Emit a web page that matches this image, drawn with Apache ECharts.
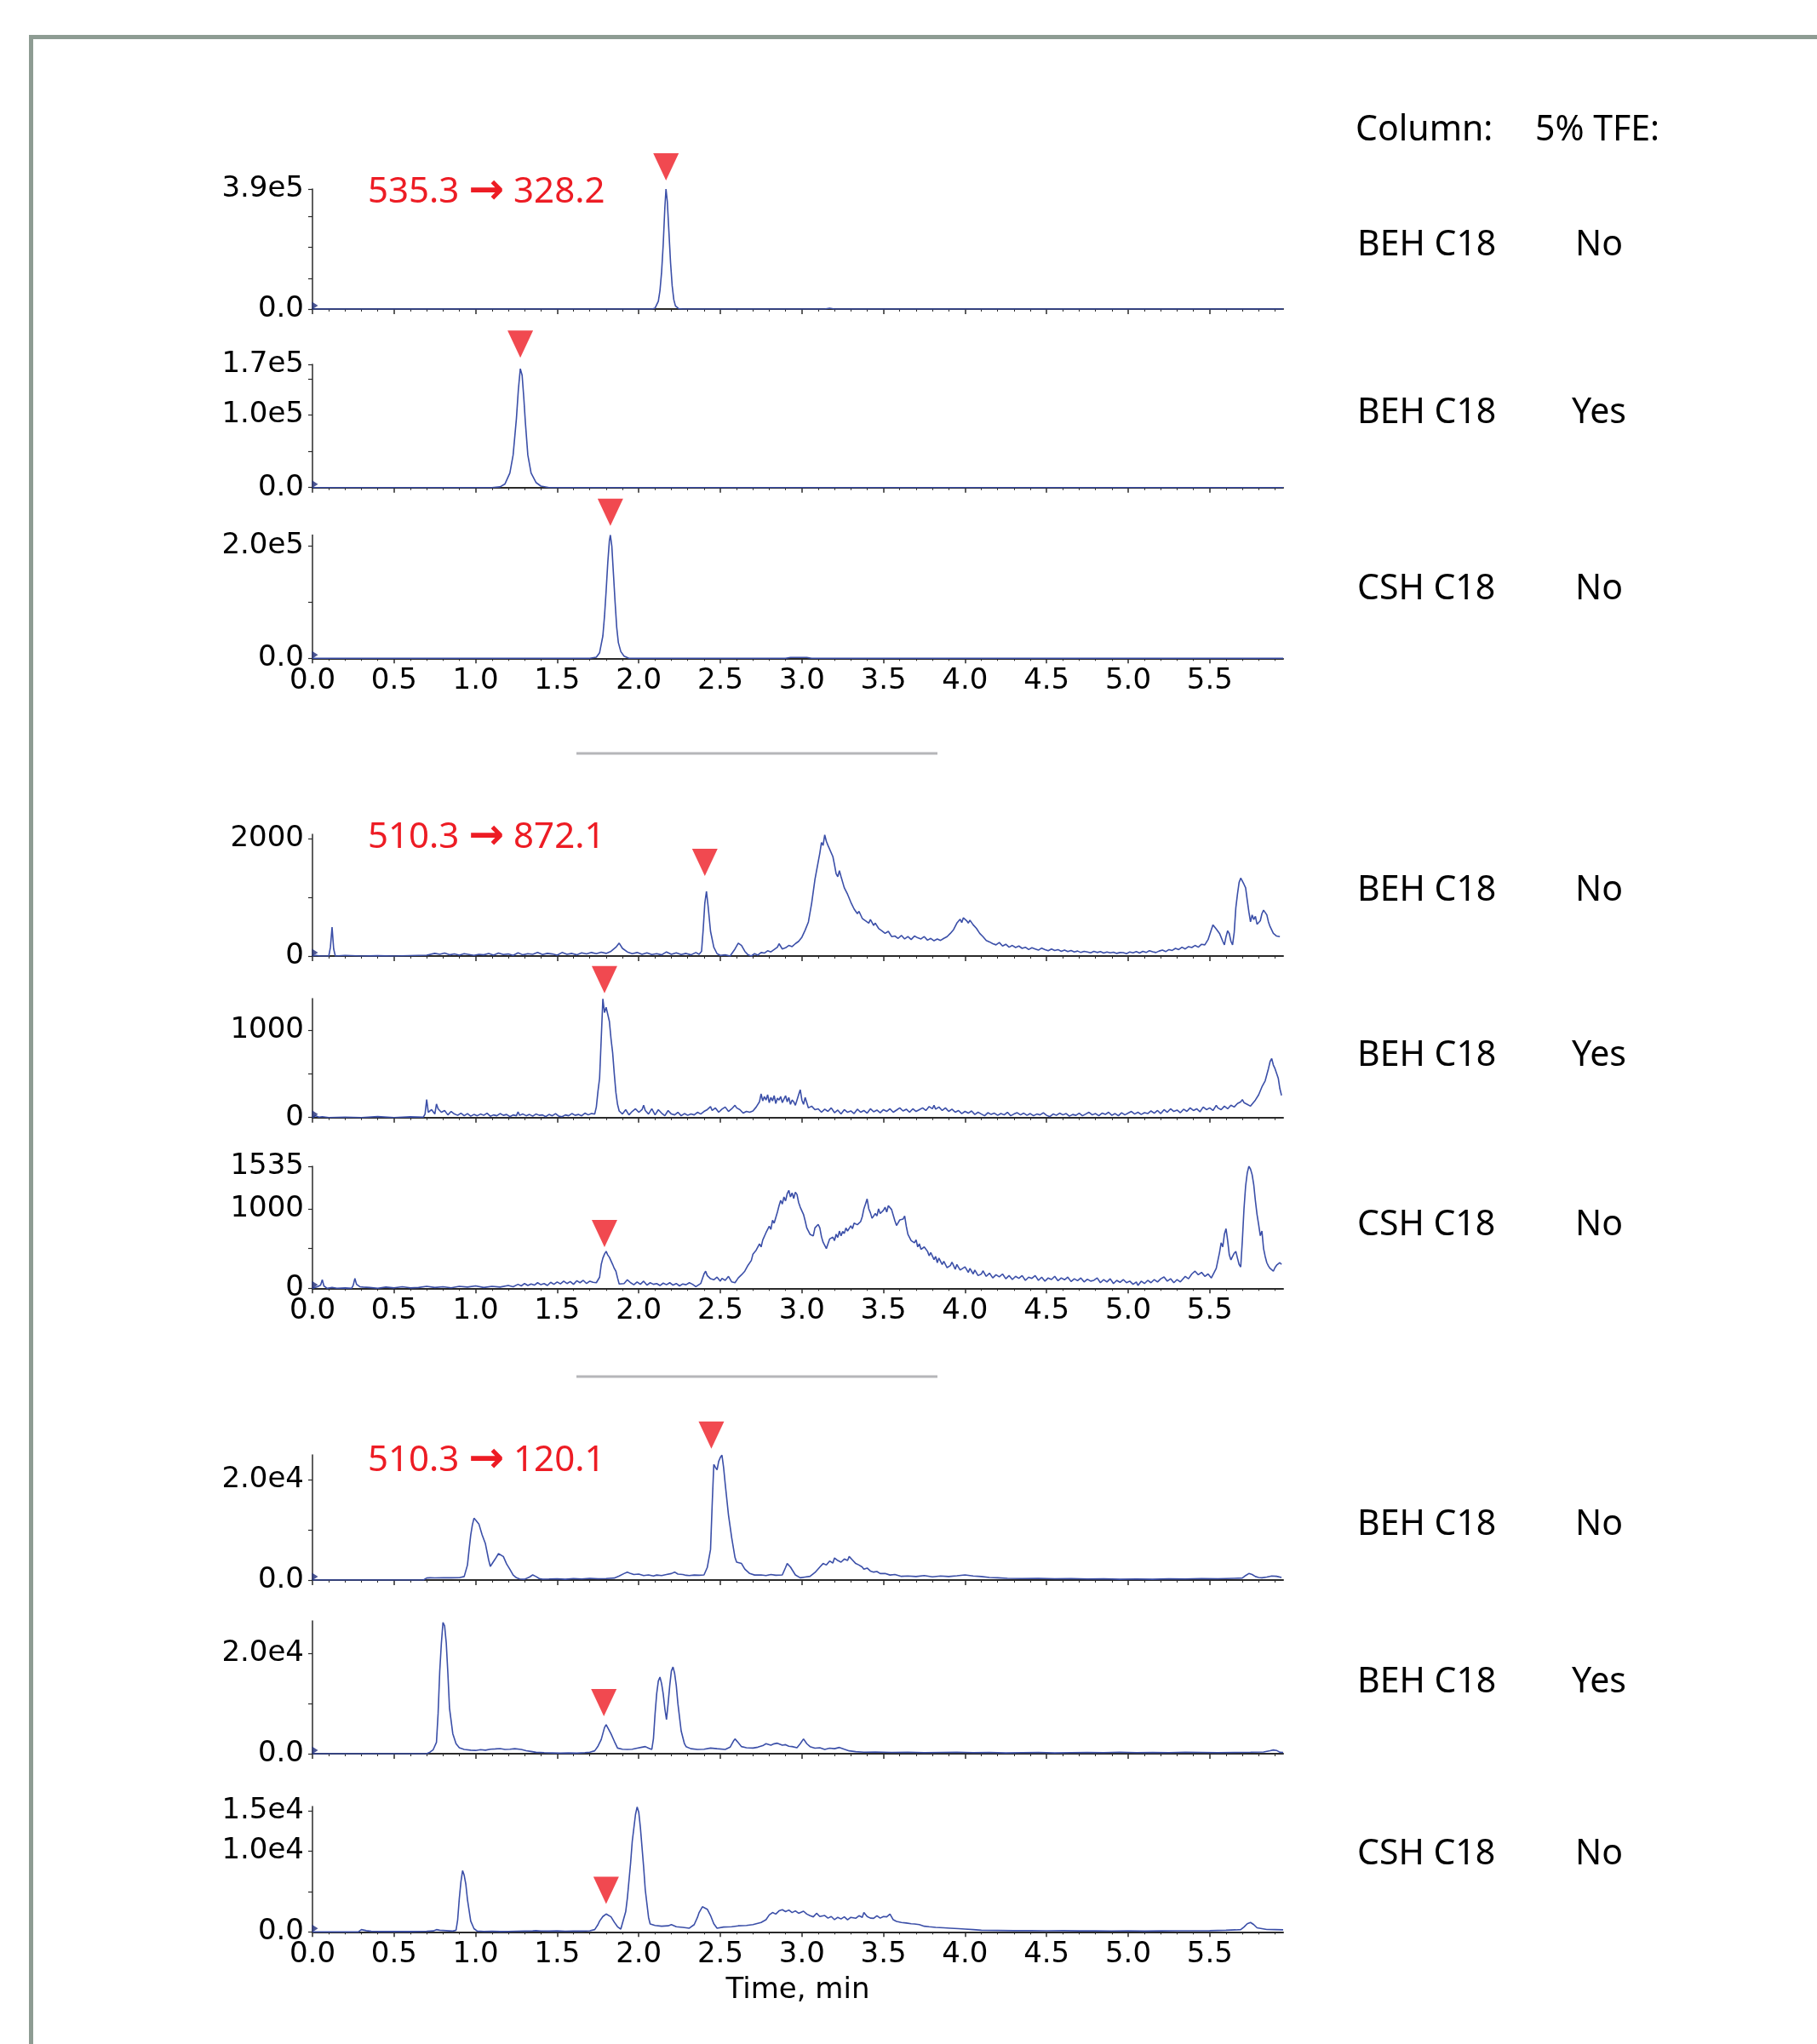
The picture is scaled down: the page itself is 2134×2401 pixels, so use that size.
<!DOCTYPE html>
<html>
<head>
<meta charset="utf-8">
<script src="https://cdn.jsdelivr.net/npm/echarts@6/dist/echarts.min.js"></script>
<style>
html,body{margin:0;padding:0;background:#fff;}
#chart{width:2134px;height:2401px;}
</style>
</head>
<body>
<div id="chart"></div>
<script>
// ---------------- DATA ----------------
// Transitions (red labels): precursor and product m/z, one per group of three traces
const precursors = ['535.3', '510.3', '510.3'];
const products   = ['328.2', '872.1', '120.1'];
// Right-hand annotation table
const columnNames = ['BEH C18','BEH C18','CSH C18','BEH C18','BEH C18','CSH C18','BEH C18','BEH C18','CSH C18'];
const tfeValues   = ['No','Yes','No','No','Yes','No','No','Yes','No'];

// X axis (time, min)
const xTickValues = [0,0.5,1.0,1.5,2.0,2.5,3.0,3.5,4.0,4.5,5.0,5.5];
const xTickLabels = ['0.0','0.5','1.0','1.5','2.0','2.5','3.0','3.5','4.0','4.5','5.0','5.5'];
const xMax = 5.95;

// Y axes: max, tick positions, labelled values and their texts
const yMaxes = [3.9e5, 1.7e5, 2.2e5, 2070, 1360, 1535, 2.5e4, 2.65e4, 1.55e4];
const yTicks = [
  [0,1e5,2e5,3e5,3.9e5],
  [0,5e4,1e5,1.5e5,1.7e5],
  [0,1e5,2e5],
  [0,1000,2000],
  [0,500,1000],
  [0,500,1000,1535],
  [0,1e4,2e4],
  [0,1e4,2e4],
  [0,5e3,1e4,1.5e4]
];
const yLabelValues = [
  [0,3.9e5],[0,1e5,1.7e5],[0,2e5],
  [0,2000],[0,1000],[0,1000,1535],
  [0,2e4],[0,2e4],[0,1e4,1.5e4]
];
const yLabelTexts = [
  ['0.0','3.9e5'],['0.0','1.0e5','1.7e5'],['0.0','2.0e5'],
  ['0','2000'],['0','1000'],['0','1000','1535'],
  ['0.0','2.0e4'],['0.0','2.0e4'],['0.0','1.0e4','1.5e4']
];

// Chromatogram traces: [time (min), intensity (cps)]
const trace1 = [[0,0],[1.0,0],[2.08,0],[2.10,3000],[2.12,25000],[2.13,60000],[2.14,120000],[2.15,210000],[2.16,330000],[2.167,390000],[2.175,350000],[2.185,250000],[2.195,150000],[2.205,75000],[2.215,30000],[2.225,10000],[2.245,1000],[2.27,0],[3.14,0],[3.17,3000],[3.20,0],[5.95,0]];
const trace2 = [[0,0],[1.10,0],[1.15,1000],[1.18,5000],[1.21,20000],[1.23,45000],[1.25,95000],[1.262,135000],[1.274,164000],[1.285,155000],[1.295,125000],[1.305,90000],[1.32,45000],[1.34,20000],[1.37,7000],[1.40,2000],[1.45,0],[5.95,0]];
const trace3 = [[0,0],[1.70,0],[1.74,2000],[1.76,10000],[1.78,40000],[1.79,75000],[1.80,120000],[1.81,170000],[1.82,210000],[1.826,220000],[1.835,200000],[1.845,150000],[1.855,100000],[1.865,55000],[1.875,28000],[1.89,12000],[1.91,4000],[1.94,0],[2.90,0],[2.93,1500],[3.03,1500],[3.06,0],[5.95,0]];
const trace4 = [[0,0],[0.02,10],[0.05,0],[0.10,0],[0.11,150],[0.12,490],[0.13,120],[0.14,0],[0.2,10],[0.3,0],[0.4,5],[0.5,0],[0.6,8],[0.7,15],[0.75,45],[0.78,30],[0.81,50],[0.84,20],[0.87,35],[0.9,15],[0.93,40],[0.96,25],[0.99,10],[1.02,30],[1.05,20],[1.08,45],[1.11,15],[1.14,50],[1.17,25],[1.20,35],[1.23,10],[1.26,55],[1.29,20],[1.32,40],[1.35,30],[1.38,60],[1.41,25],[1.44,45],[1.47,35],[1.50,15],[1.53,60],[1.56,30],[1.59,45],[1.62,20],[1.65,55],[1.68,35],[1.71,60],[1.74,40],[1.77,65],[1.80,45],[1.83,80],[1.86,150],[1.88,220],[1.90,130],[1.93,70],[1.96,40],[1.99,60],[2.02,30],[2.05,55],[2.08,25],[2.11,40],[2.14,20],[2.17,70],[2.20,30],[2.23,55],[2.26,25],[2.29,45],[2.32,20],[2.35,60],[2.37,30],[2.385,80],[2.395,450],[2.405,900],[2.415,1100],[2.425,850],[2.44,420],[2.46,150],[2.48,40],[2.50,10],[2.53,20],[2.56,0],[2.59,120],[2.61,220],[2.63,180],[2.65,80],[2.67,20],[2.69,0],[2.71,40],[2.73,15],[2.75,60],[2.77,50],[2.79,90],[2.81,70],[2.83,110],[2.85,150],[2.86,210],[2.88,120],[2.90,140],[2.92,180],[2.94,160],[2.96,210],[2.98,250],[3.00,320],[3.02,440],[3.04,580],[3.06,900],[3.08,1300],[3.10,1600],[3.11,1750],[3.12,1930],[3.13,1880],[3.14,2060],[3.15,1950],[3.16,1880],[3.17,1900],[3.19,1690],[3.20,1550],[3.21,1400],[3.22,1350],[3.23,1450],[3.24,1350],[3.26,1160],[3.28,1050],[3.30,915],[3.32,800],[3.34,720],[3.35,760],[3.37,640],[3.39,600],[3.41,560],[3.42,620],[3.44,520],[3.45,560],[3.47,470],[3.49,430],[3.51,385],[3.53,420],[3.55,330],[3.57,340],[3.59,300],[3.61,350],[3.63,290],[3.65,330],[3.67,280],[3.69,340],[3.71,310],[3.73,290],[3.75,330],[3.77,270],[3.79,300],[3.81,260],[3.83,290],[3.85,265],[3.87,300],[3.89,330],[3.91,385],[3.93,450],[3.95,560],[3.97,625],[3.98,570],[3.99,650],[4.01,600],[4.02,560],[4.03,610],[4.05,530],[4.07,470],[4.09,385],[4.11,330],[4.13,265],[4.15,240],[4.17,210],[4.19,190],[4.21,230],[4.23,170],[4.25,200],[4.27,150],[4.29,180],[4.31,145],[4.33,170],[4.35,130],[4.37,150],[4.39,110],[4.41,140],[4.43,120],[4.45,100],[4.47,135],[4.49,110],[4.51,90],[4.53,120],[4.55,95],[4.57,110],[4.59,80],[4.61,100],[4.63,75],[4.65,95],[4.67,70],[4.69,85],[4.71,60],[4.73,80],[4.75,70],[4.77,55],[4.79,80],[4.81,60],[4.83,75],[4.85,50],[4.87,70],[4.89,55],[4.91,65],[4.93,45],[4.95,60],[4.97,58],[4.99,40],[5.01,70],[5.03,55],[5.05,75],[5.07,50],[5.09,80],[5.11,60],[5.13,90],[5.15,72],[5.17,60],[5.19,85],[5.21,100],[5.23,75],[5.25,110],[5.27,95],[5.29,130],[5.31,110],[5.33,150],[5.35,120],[5.37,160],[5.39,145],[5.41,180],[5.43,150],[5.45,200],[5.47,190],[5.49,280],[5.51,450],[5.52,530],[5.54,460],[5.56,385],[5.58,250],[5.59,190],[5.60,330],[5.61,430],[5.62,380],[5.63,250],[5.64,190],[5.65,400],[5.66,820],[5.67,1050],[5.68,1250],[5.69,1325],[5.70,1300],[5.71,1220],[5.72,1160],[5.73,950],[5.74,750],[5.75,580],[5.76,700],[5.77,620],[5.78,675],[5.79,540],[5.80,530],[5.81,600],[5.82,720],[5.83,780],[5.84,795],[5.85,700],[5.86,580],[5.87,500],[5.89,385],[5.91,340],[5.93,330]];
const trace5 = [[0,0],[0.02,20],[0.04,5],[0.06,10],[0.1,0],[0.2,5],[0.3,0],[0.4,10],[0.5,0],[0.6,8],[0.68,5],[0.69,40],[0.70,205],[0.71,60],[0.73,90],[0.75,40],[0.76,155],[0.77,100],[0.79,60],[0.81,80],[0.83,30],[0.85,70],[0.87,40],[0.89,25],[0.91,50],[0.93,20],[0.95,45],[0.97,15],[0.99,35],[1.01,20],[1.03,40],[1.05,25],[1.07,50],[1.09,15],[1.11,30],[1.13,20],[1.15,45],[1.17,25],[1.19,35],[1.21,10],[1.23,30],[1.25,20],[1.26,65],[1.27,25],[1.29,40],[1.31,20],[1.33,35],[1.35,15],[1.37,40],[1.39,25],[1.41,30],[1.43,10],[1.45,35],[1.47,20],[1.49,45],[1.51,15],[1.53,10],[1.55,30],[1.57,20],[1.59,45],[1.61,25],[1.63,35],[1.65,20],[1.67,50],[1.69,30],[1.71,45],[1.73,40],[1.74,120],[1.75,300],[1.76,450],[1.77,900],[1.78,1357],[1.79,1200],[1.80,1260],[1.81,1180],[1.82,1100],[1.83,900],[1.84,740],[1.85,500],[1.86,285],[1.87,150],[1.88,75],[1.90,40],[1.92,90],[1.94,30],[1.96,70],[1.98,100],[2.00,60],[2.02,90],[2.03,140],[2.04,80],[2.06,40],[2.08,100],[2.10,30],[2.12,90],[2.14,50],[2.16,20],[2.18,80],[2.20,40],[2.22,30],[2.24,60],[2.26,20],[2.28,45],[2.30,25],[2.32,40],[2.34,30],[2.36,60],[2.38,40],[2.40,70],[2.42,90],[2.44,125],[2.45,80],[2.47,110],[2.49,60],[2.51,95],[2.53,120],[2.55,70],[2.57,100],[2.59,140],[2.60,110],[2.62,90],[2.64,50],[2.66,70],[2.68,60],[2.70,75],[2.72,120],[2.74,180],[2.75,270],[2.76,190],[2.77,240],[2.78,200],[2.79,260],[2.80,170],[2.81,230],[2.82,190],[2.83,250],[2.84,160],[2.85,220],[2.86,200],[2.87,240],[2.88,170],[2.89,210],[2.90,250],[2.91,180],[2.92,230],[2.93,150],[2.94,200],[2.95,180],[2.96,140],[2.97,200],[2.98,260],[2.99,318],[3.00,200],[3.01,150],[3.02,230],[3.04,110],[3.06,130],[3.08,90],[3.10,100],[3.12,60],[3.14,95],[3.16,70],[3.18,110],[3.20,55],[3.22,85],[3.24,40],[3.26,90],[3.28,60],[3.30,75],[3.32,45],[3.34,95],[3.36,60],[3.38,80],[3.40,50],[3.42,100],[3.44,65],[3.46,85],[3.48,55],[3.50,90],[3.52,70],[3.54,100],[3.56,60],[3.58,85],[3.60,110],[3.62,75],[3.64,95],[3.66,60],[3.68,100],[3.70,70],[3.72,90],[3.74,110],[3.76,80],[3.78,125],[3.80,100],[3.81,140],[3.82,95],[3.84,120],[3.86,80],[3.88,110],[3.90,70],[3.92,95],[3.94,60],[3.96,80],[3.98,45],[4.00,70],[4.02,50],[4.04,75],[4.06,35],[4.08,60],[4.10,40],[4.12,20],[4.14,55],[4.16,35],[4.18,50],[4.20,25],[4.22,45],[4.24,30],[4.26,60],[4.28,20],[4.30,40],[4.32,55],[4.34,30],[4.36,50],[4.38,25],[4.40,45],[4.42,20],[4.44,40],[4.46,30],[4.48,55],[4.50,25],[4.52,10],[4.54,40],[4.56,25],[4.58,50],[4.60,30],[4.62,45],[4.64,15],[4.66,35],[4.68,25],[4.70,50],[4.72,20],[4.74,40],[4.76,60],[4.78,30],[4.80,45],[4.82,20],[4.84,50],[4.86,35],[4.88,60],[4.90,25],[4.92,45],[4.94,20],[4.96,55],[4.98,30],[5.00,50],[5.02,70],[5.04,40],[5.06,60],[5.08,35],[5.10,55],[5.12,45],[5.14,75],[5.16,50],[5.18,80],[5.20,45],[5.22,90],[5.24,60],[5.26,100],[5.28,70],[5.30,85],[5.32,55],[5.34,95],[5.36,70],[5.38,110],[5.40,80],[5.42,100],[5.44,65],[5.46,120],[5.48,90],[5.50,110],[5.52,80],[5.54,140],[5.55,110],[5.57,90],[5.59,130],[5.61,100],[5.63,140],[5.65,120],[5.67,160],[5.69,180],[5.70,205],[5.71,170],[5.73,150],[5.75,130],[5.76,140],[5.78,200],[5.80,260],[5.82,350],[5.84,420],[5.86,560],[5.87,640],[5.88,675],[5.89,600],[5.90,560],[5.91,545],[5.92,450],[5.93,330],[5.94,253]];
const trace6 = [[0,0],[0.03,20],[0.05,40],[0.06,107],[0.07,30],[0.09,0],[0.12,10],[0.15,0],[0.2,5],[0.24,0],[0.25,40],[0.26,125],[0.27,50],[0.29,20],[0.31,15],[0.35,10],[0.40,0],[0.45,15],[0.50,5],[0.55,20],[0.60,5],[0.65,10],[0.70,25],[0.75,10],[0.80,20],[0.85,5],[0.90,25],[0.95,15],[1.00,30],[1.05,10],[1.10,25],[1.15,15],[1.20,35],[1.23,20],[1.26,50],[1.28,30],[1.30,60],[1.32,35],[1.34,55],[1.36,40],[1.38,70],[1.40,45],[1.42,60],[1.44,35],[1.46,75],[1.48,50],[1.50,80],[1.52,55],[1.54,90],[1.56,60],[1.58,85],[1.60,50],[1.62,95],[1.64,70],[1.66,100],[1.68,60],[1.70,90],[1.72,75],[1.74,70],[1.76,140],[1.77,300],[1.78,380],[1.79,430],[1.80,465],[1.81,420],[1.82,390],[1.83,375],[1.84,300],[1.85,250],[1.86,215],[1.87,130],[1.88,54],[1.89,70],[1.91,60],[1.93,107],[1.95,70],[1.97,45],[1.99,80],[2.01,50],[2.03,90],[2.05,40],[2.07,70],[2.09,50],[2.11,60],[2.13,35],[2.15,65],[2.17,45],[2.19,70],[2.21,40],[2.23,60],[2.25,30],[2.27,55],[2.29,45],[2.31,70],[2.33,50],[2.35,20],[2.36,0],[2.38,60],[2.40,180],[2.41,215],[2.42,160],[2.44,120],[2.46,107],[2.48,140],[2.50,90],[2.51,125],[2.53,100],[2.55,150],[2.57,80],[2.59,70],[2.61,130],[2.63,170],[2.65,215],[2.67,290],[2.69,350],[2.70,430],[2.72,480],[2.74,560],[2.75,520],[2.76,607],[2.78,700],[2.80,780],[2.81,740],[2.82,857],[2.83,820],[2.85,960],[2.86,1040],[2.87,1107],[2.88,1060],[2.89,1150],[2.90,1100],[2.91,1190],[2.92,1232],[2.93,1150],[2.94,1200],[2.95,1130],[2.96,1210],[2.97,1180],[2.98,1080],[2.99,1020],[3.01,929],[3.02,850],[3.03,760],[3.05,679],[3.06,700],[3.07,660],[3.08,760],[3.10,804],[3.11,760],[3.12,650],[3.13,580],[3.15,500],[3.16,560],[3.17,620],[3.19,643],[3.20,600],[3.21,680],[3.22,640],[3.23,720],[3.24,660],[3.25,714],[3.26,690],[3.27,760],[3.28,720],[3.30,786],[3.31,750],[3.32,820],[3.34,800],[3.36,839],[3.37,900],[3.38,1000],[3.39,1060],[3.40,1125],[3.41,1000],[3.42,950],[3.43,880],[3.44,893],[3.45,940],[3.46,910],[3.47,1000],[3.48,940],[3.50,982],[3.51,1020],[3.52,960],[3.53,1040],[3.54,1054],[3.55,990],[3.56,920],[3.57,850],[3.58,790],[3.59,786],[3.60,860],[3.61,880],[3.62,870],[3.63,911],[3.64,780],[3.65,680],[3.66,640],[3.67,600],[3.69,572],[3.70,610],[3.71,520],[3.72,560],[3.73,490],[3.75,520],[3.77,465],[3.78,410],[3.79,450],[3.81,360],[3.82,400],[3.83,322],[3.84,380],[3.86,300],[3.87,340],[3.89,260],[3.91,286],[3.92,330],[3.94,240],[3.95,300],[3.97,230],[3.98,215],[4.00,270],[4.02,200],[4.03,250],[4.05,180],[4.06,230],[4.08,160],[4.10,179],[4.11,220],[4.13,150],[4.15,190],[4.17,130],[4.19,170],[4.21,143],[4.23,180],[4.25,120],[4.27,160],[4.29,110],[4.31,150],[4.33,125],[4.35,160],[4.37,100],[4.39,140],[4.41,125],[4.43,160],[4.45,100],[4.47,140],[4.49,90],[4.51,130],[4.53,110],[4.55,150],[4.57,95],[4.59,130],[4.61,107],[4.63,140],[4.65,85],[4.67,120],[4.69,95],[4.71,130],[4.73,80],[4.75,115],[4.77,90],[4.79,100],[4.81,130],[4.83,70],[4.85,110],[4.87,80],[4.89,120],[4.91,60],[4.93,100],[4.95,75],[4.97,110],[4.99,70],[5.01,90],[5.03,50],[5.05,80],[5.06,36],[5.08,90],[5.10,60],[5.12,100],[5.14,70],[5.16,110],[5.18,80],[5.20,120],[5.22,143],[5.24,90],[5.26,120],[5.28,70],[5.30,110],[5.32,80],[5.33,89],[5.35,150],[5.37,120],[5.39,180],[5.41,215],[5.43,170],[5.45,200],[5.47,150],[5.49,180],[5.51,130],[5.52,143],[5.54,250],[5.56,450],[5.57,572],[5.58,520],[5.59,680],[5.60,750],[5.61,600],[5.62,420],[5.63,357],[5.64,400],[5.65,440],[5.66,465],[5.67,380],[5.68,300],[5.69,268],[5.70,600],[5.71,1000],[5.72,1286],[5.73,1450],[5.74,1535],[5.75,1500],[5.76,1429],[5.77,1300],[5.78,1100],[5.79,929],[5.80,800],[5.81,661],[5.82,720],[5.83,500],[5.84,400],[5.85,322],[5.86,280],[5.87,250],[5.88,230],[5.89,215],[5.90,260],[5.91,290],[5.92,310],[5.93,322],[5.94,300]];
const trace7 = [[0,0],[0.5,0],[0.68,0],[0.70,400],[0.72,450],[0.75,420],[0.80,470],[0.85,450],[0.90,480],[0.93,700],[0.95,3000],[0.96,6100],[0.97,9000],[0.98,11000],[0.99,12360],[1.00,12000],[1.01,11800],[1.02,11200],[1.04,9000],[1.06,7260],[1.08,4000],[1.09,2720],[1.10,3000],[1.12,4200],[1.14,5270],[1.15,5400],[1.17,4700],[1.19,3200],[1.21,2150],[1.23,1000],[1.25,450],[1.27,200],[1.30,150],[1.33,600],[1.35,1020],[1.37,700],[1.39,300],[1.41,170],[1.45,200],[1.50,250],[1.55,150],[1.60,300],[1.65,200],[1.70,350],[1.75,250],[1.80,300],[1.85,400],[1.88,800],[1.91,1300],[1.93,1590],[1.95,1300],[1.97,1100],[2.00,1200],[2.03,900],[2.06,1020],[2.09,800],[2.11,1000],[2.14,900],[2.17,1100],[2.20,1300],[2.22,1590],[2.24,1200],[2.27,1100],[2.29,950],[2.31,900],[2.34,1000],[2.37,950],[2.40,1020],[2.42,2500],[2.44,6100],[2.45,15000],[2.46,23100],[2.47,22500],[2.48,22000],[2.49,23700],[2.50,24500],[2.51,24950],[2.52,22500],[2.53,19200],[2.55,13000],[2.57,8400],[2.59,4500],[2.60,3570],[2.61,3800],[2.63,3300],[2.65,2200],[2.68,1300],[2.71,1000],[2.75,1020],[2.78,900],[2.81,1100],[2.84,950],[2.88,1020],[2.90,2500],[2.91,3300],[2.93,2600],[2.96,1020],[2.99,450],[3.02,600],[3.05,740],[3.08,1500],[3.11,2600],[3.13,3300],[3.15,3000],[3.17,3800],[3.19,3400],[3.20,4420],[3.22,3900],[3.24,3570],[3.26,4200],[3.28,3900],[3.29,4700],[3.31,4000],[3.33,3300],[3.35,3000],[3.37,2600],[3.38,2150],[3.40,2400],[3.42,1800],[3.44,1590],[3.46,1700],[3.48,1300],[3.51,1300],[3.54,1000],[3.57,1100],[3.61,740],[3.65,800],[3.70,700],[3.75,900],[3.80,650],[3.85,800],[3.90,700],[3.95,850],[4.00,1020],[4.05,800],[4.10,700],[4.15,500],[4.20,450],[4.26,340],[4.35,300],[4.45,350],[4.55,250],[4.65,300],[4.75,200],[4.85,250],[4.95,150],[5.05,200],[5.15,150],[5.25,250],[5.35,200],[5.45,300],[5.55,250],[5.65,350],[5.70,400],[5.72,900],[5.74,1300],[5.76,1100],[5.78,700],[5.80,500],[5.82,450],[5.85,600],[5.88,800],[5.91,740],[5.94,500]];
const trace8 = [[0,0],[0.5,0],[0.70,0],[0.72,300],[0.74,800],[0.76,2270],[0.77,8000],[0.78,16400],[0.79,22000],[0.80,26200],[0.81,25500],[0.82,22100],[0.83,16000],[0.84,9070],[0.86,4000],[0.88,1980],[0.90,1200],[0.93,850],[0.97,700],[1.00,650],[1.03,800],[1.06,700],[1.09,900],[1.12,950],[1.15,1020],[1.18,850],[1.21,900],[1.24,1000],[1.28,850],[1.31,600],[1.34,450],[1.37,280],[1.42,200],[1.47,150],[1.52,100],[1.57,150],[1.62,100],[1.67,200],[1.70,300],[1.73,570],[1.75,1500],[1.77,2830],[1.79,5200],[1.80,5780],[1.81,5500],[1.83,3970],[1.85,2500],[1.87,1130],[1.90,900],[1.93,850],[1.96,900],[1.99,1100],[2.02,1300],[2.04,1420],[2.06,1100],[2.08,850],[2.09,3000],[2.10,7940],[2.11,12000],[2.12,14500],[2.13,15300],[2.14,14000],[2.15,11900],[2.16,9000],[2.17,6800],[2.18,10000],[2.19,13600],[2.20,16500],[2.21,17300],[2.22,16000],[2.23,13600],[2.24,10000],[2.26,4540],[2.28,2000],[2.29,1420],[2.32,1000],[2.36,850],[2.40,900],[2.44,1130],[2.48,1000],[2.53,850],[2.56,1300],[2.58,2500],[2.59,2950],[2.61,2200],[2.63,1420],[2.66,1200],[2.70,1130],[2.73,1300],[2.76,1600],[2.78,2000],[2.79,2270],[2.81,1700],[2.83,1980],[2.85,2100],[2.88,1700],[2.90,1800],[2.92,1500],[2.94,1420],[2.97,1200],[2.99,2000],[3.01,2950],[3.03,2000],[3.05,1420],[3.08,1100],[3.11,1200],[3.14,850],[3.17,1100],[3.20,1000],[3.23,1250],[3.26,900],[3.29,570],[3.33,400],[3.38,300],[3.45,350],[3.55,250],[3.65,300],[3.75,200],[3.85,250],[3.95,300],[4.05,200],[4.15,250],[4.25,150],[4.35,200],[4.45,250],[4.55,150],[4.65,200],[4.75,250],[4.85,200],[4.95,300],[5.05,200],[5.15,250],[5.25,200],[5.35,300],[5.45,250],[5.55,200],[5.65,250],[5.75,300],[5.83,350],[5.87,600],[5.89,740],[5.91,650],[5.93,280],[5.95,250]];
const trace9 = [[0,0],[0.28,0],[0.30,280],[0.33,150],[0.36,70],[0.40,50],[0.45,60],[0.50,40],[0.55,50],[0.60,40],[0.65,60],[0.70,80],[0.74,120],[0.76,280],[0.78,200],[0.82,150],[0.86,100],[0.88,200],[0.89,1500],[0.90,4140],[0.91,6200],[0.92,7580],[0.93,7000],[0.94,5900],[0.95,4000],[0.97,1330],[0.99,400],[1.01,100],[1.05,50],[1.10,80],[1.15,40],[1.20,60],[1.25,80],[1.30,100],[1.35,120],[1.37,150],[1.40,110],[1.45,100],[1.50,120],[1.55,90],[1.60,110],[1.65,100],[1.70,130],[1.73,280],[1.75,900],[1.76,1330],[1.78,1900],[1.80,2210],[1.81,2100],[1.83,1860],[1.85,1200],[1.87,630],[1.89,350],[1.90,280],[1.92,2500],[1.93,4140],[1.95,8500],[1.96,11160],[1.98,14500],[1.99,15440],[2.00,14800],[2.01,12910],[2.03,8000],[2.04,5190],[2.06,1800],[2.07,980],[2.10,800],[2.14,700],[2.18,750],[2.20,900],[2.23,630],[2.27,550],[2.31,460],[2.34,900],[2.36,1800],[2.37,2390],[2.39,3100],[2.40,3260],[2.42,2800],[2.44,2030],[2.46,1000],[2.48,460],[2.52,600],[2.57,630],[2.61,750],[2.66,800],[2.70,900],[2.75,1160],[2.78,1500],[2.80,2100],[2.82,2390],[2.84,2200],[2.86,2600],[2.88,2740],[2.90,2500],[2.92,2700],[2.94,2390],[2.96,2600],[2.98,2300],[3.01,2560],[3.03,2200],[3.05,2000],[3.07,1860],[3.09,2300],[3.11,1900],[3.14,2030],[3.16,1700],[3.18,1900],[3.20,1510],[3.22,1800],[3.24,1600],[3.26,1860],[3.28,1500],[3.30,1800],[3.33,1680],[3.35,2000],[3.37,1800],[3.38,2390],[3.40,1900],[3.42,1700],[3.44,1680],[3.46,2000],[3.48,1700],[3.50,1900],[3.52,1860],[3.54,2200],[3.56,1500],[3.58,1300],[3.61,1160],[3.64,1100],[3.67,1000],[3.69,980],[3.72,900],[3.75,700],[3.78,630],[3.82,550],[3.87,500],[3.91,460],[3.96,400],[4.00,350],[4.05,280],[4.10,200],[4.20,180],[4.30,150],[4.40,170],[4.50,130],[4.60,150],[4.70,120],[4.80,140],[4.90,110],[5.00,130],[5.10,100],[5.20,120],[5.30,140],[5.40,130],[5.50,150],[5.60,200],[5.66,250],[5.69,280],[5.71,600],[5.73,1000],[5.75,1160],[5.77,900],[5.79,500],[5.80,350],[5.85,300],[5.90,280],[5.95,260]];
const traces = [trace1, trace2, trace3, trace4, trace5, trace6, trace7, trace8, trace9];

// Red peak markers: [time, intensity at the tip of the triangle]
const markerPoints = [[2.167,4.18e5],[1.274,1.79e5],[1.826,2.365e5],[2.405,1360],[1.79,1422],[1.79,518],[2.445,26250],[1.786,7480],[1.80,3440]];

// ---------------- LAYOUT ----------------
const gridLeft = 367, gridWidth = 1140;
const gridTops  = [222, 428, 628.5, 980, 1173, 1370, 1709, 1904, 2122];
const gridBases = [363, 572.7, 773.3, 1123, 1312.7, 1513.3, 1856, 2060, 2269.3];
const rowCenters = [288, 485, 692, 1046, 1240, 1439, 1791, 1976, 2178];
const titleCenters = [226, 984, 1716];

const AXIS_FONT = '"DejaVu Sans", "Liberation Sans", sans-serif';
const TEXT_FONT = '"Noto Sans", "Open Sans", sans-serif';
const LINE_COLOR = '#3b4fa8';
const RED = '#ed1c24';

const grids = [], xAxes = [], yAxes = [], series = [];
for (let i = 0; i < 9; i++) {
  grids.push({left: gridLeft, width: gridWidth, top: gridTops[i], height: gridBases[i] - gridTops[i], containLabel: false});
  const showX = (i % 3 === 2);
  xAxes.push({
    gridIndex: i, type: 'value', min: 0, max: xMax, interval: 0.5,
    axisLine: {show: true, onZero: false, lineStyle: {color: '#2a2a2a', width: 2}},
    axisTick: {show: true, length: 6, customValues: xTickValues, lineStyle: {color: '#2a2a2a', width: 1.5}},
    minorTick: {show: true, splitNumber: 5, length: 3, lineStyle: {color: '#2a2a2a', width: 1}},
    axisLabel: {show: showX, customValues: xTickValues, margin: 10,
      formatter: v => { const k = xTickValues.findIndex(t => Math.abs(t - v) < 1e-6); return k >= 0 ? xTickLabels[k] : ''; },
      fontSize: 34, fontFamily: AXIS_FONT, color: '#000'},
    splitLine: {show: false}, minorSplitLine: {show: false},
    name: i === 8 ? 'Time, min' : '', nameLocation: 'middle', nameGap: 52,
    nameTextStyle: {fontSize: 34, fontFamily: AXIS_FONT, color: '#000'}
  });
  yAxes.push({
    gridIndex: i, type: 'value', min: 0, max: yMaxes[i],
    axisLine: {show: true, onZero: false, lineStyle: {color: '#2a2a2a', width: 1.5}},
    axisTick: {show: true, length: 5, customValues: yTicks[i], lineStyle: {color: '#2a2a2a', width: 1.2}},
    axisLabel: {show: true, customValues: yLabelValues[i], margin: 10,
      formatter: v => { const k = yLabelValues[i].findIndex(t => Math.abs(t - v) < 1e-6 * Math.max(1, t)); return k >= 0 ? yLabelTexts[i][k] : ''; },
      fontSize: 34, fontFamily: AXIS_FONT, color: '#000'},
    splitLine: {show: false}
  });
  series.push({
    type: 'line', xAxisIndex: i, yAxisIndex: i, data: traces[i],
    showSymbol: false, symbol: 'none', silent: true, clip: true,
    lineStyle: {color: LINE_COLOR, width: 1.6}, z: 3
  });
  series.push({
    type: 'scatter', xAxisIndex: i, yAxisIndex: i, data: [markerPoints[i]],
    symbol: 'triangle', symbolRotate: 180, symbolSize: [30, 32], symbolOffset: [0, -16],
    itemStyle: {color: RED}, clip: false, silent: true, z: 5
  });
  series.push({
    type: 'scatter', xAxisIndex: i, yAxisIndex: i, data: [[0, 0]],
    symbol: 'triangle', symbolRotate: -90, symbolSize: [9, 7], symbolOffset: [3, -4],
    itemStyle: {color: '#1f2d7a'}, clip: false, silent: true, z: 4
  });
}

const graphics = [
  {type: 'rect', shape: {x: 36.5, y: 43.5, width: 2300, height: 2600}, style: {fill: 'none', stroke: '#8e9c93', lineWidth: 5}, z: 0},
  {type: 'line', shape: {x1: 677, y1: 885, x2: 1101, y2: 885}, style: {stroke: '#b5b6b9', lineWidth: 3}},
  {type: 'line', shape: {x1: 677, y1: 1617, x2: 1101, y2: 1617}, style: {stroke: '#b5b6b9', lineWidth: 3}},
  {type: 'text', x: 1592, y: 153, style: {text: 'Column:', fill: '#000', fontSize: 41, fontFamily: TEXT_FONT, align: 'left', verticalAlign: 'middle'}},
  {type: 'text', x: 1803, y: 153, style: {text: '5% TFE:', fill: '#000', fontSize: 41, fontFamily: TEXT_FONT, align: 'left', verticalAlign: 'middle'}}
];
for (let i = 0; i < 9; i++) {
  graphics.push({type: 'text', x: 1594, y: rowCenters[i], style: {text: columnNames[i], fill: '#000', fontSize: 41, fontFamily: TEXT_FONT, align: 'left', verticalAlign: 'middle'}});
  graphics.push({type: 'text', x: 1878, y: rowCenters[i], style: {text: tfeValues[i], fill: '#000', fontSize: 41, fontFamily: TEXT_FONT, align: 'center', verticalAlign: 'middle'}});
}
for (let g = 0; g < 3; g++) {
  graphics.push({type: 'text', x: 432, y: titleCenters[g], z: 10, style: {
    text: '{n|' + precursors[g] + ' }{a|\u2192}{n| ' + products[g] + '}',
    align: 'left', verticalAlign: 'middle',
    rich: {
      n: {fill: RED, fontSize: 42, fontFamily: TEXT_FONT},
      a: {fill: RED, fontSize: 50, fontWeight: 'bold', fontFamily: '"DejaVu Sans", sans-serif'}
    }
  }});
}

const chart = echarts.init(document.getElementById('chart'), null, {renderer: 'canvas'});
chart.setOption({
  backgroundColor: '#ffffff',
  animation: false,
  grid: grids,
  xAxis: xAxes,
  yAxis: yAxes,
  series: series,
  graphic: graphics
});
</script>
</body>
</html>
